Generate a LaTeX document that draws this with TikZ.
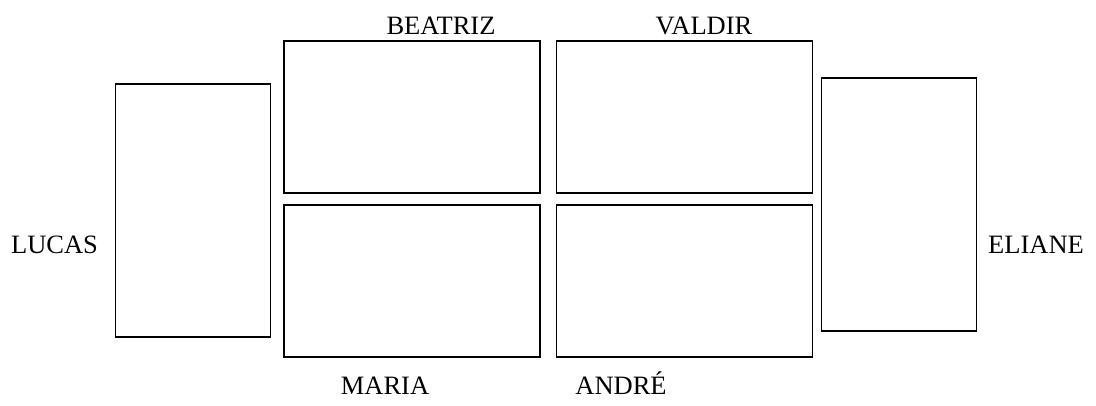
\documentclass[tikz,border=0pt]{standalone}
\usepackage{fontspec}
\setmainfont{Liberation Serif}
\usetikzlibrary{positioning}
\tikzset{
  % mesas
  mesa/.style={draw=black,line width=1.2pt,inner sep=0pt,outer sep=0pt},
  mesah/.style={mesa,minimum width=256pt,minimum height=152pt},
  mesav/.style={mesa,minimum width=155pt,minimum height=253pt},
  nome/.style={font=\fontsize{26.5}{31}\selectfont,inner sep=0pt,anchor=base},
}
\begin{document}
\begin{tikzpicture}[x=1pt,y=-1pt]
  \useasboundingbox (0,0) rectangle (1096,405);
  \node[mesav] (lucasbox) at (193,210.5) {};
  \node[mesah] (beatrizbox) at (412,117) {};
  \node[mesah] (valdirbox) at (684.5,117) {};
  \node[mesah] (mariabox) at (412,281) {};
  \node[mesah] (andrebox) at (684.5,281) {};
  \node[mesav] (elianebox) at (899,204.5) {};
  \node[nome] (beatriz) at (441,34) {BEATRIZ};
  \node[nome] (valdir) at (704,34) {VALDIR};
  \node[nome] (lucas) at (54.5,253) {LUCAS};
  \node[nome] (eliane) at (1036,253) {ELIANE};
  \node[nome] (maria) at (385,394) {MARIA};
  \node[nome] (andre) at (621,394) {ANDRÉ};
\end{tikzpicture}
\end{document}
